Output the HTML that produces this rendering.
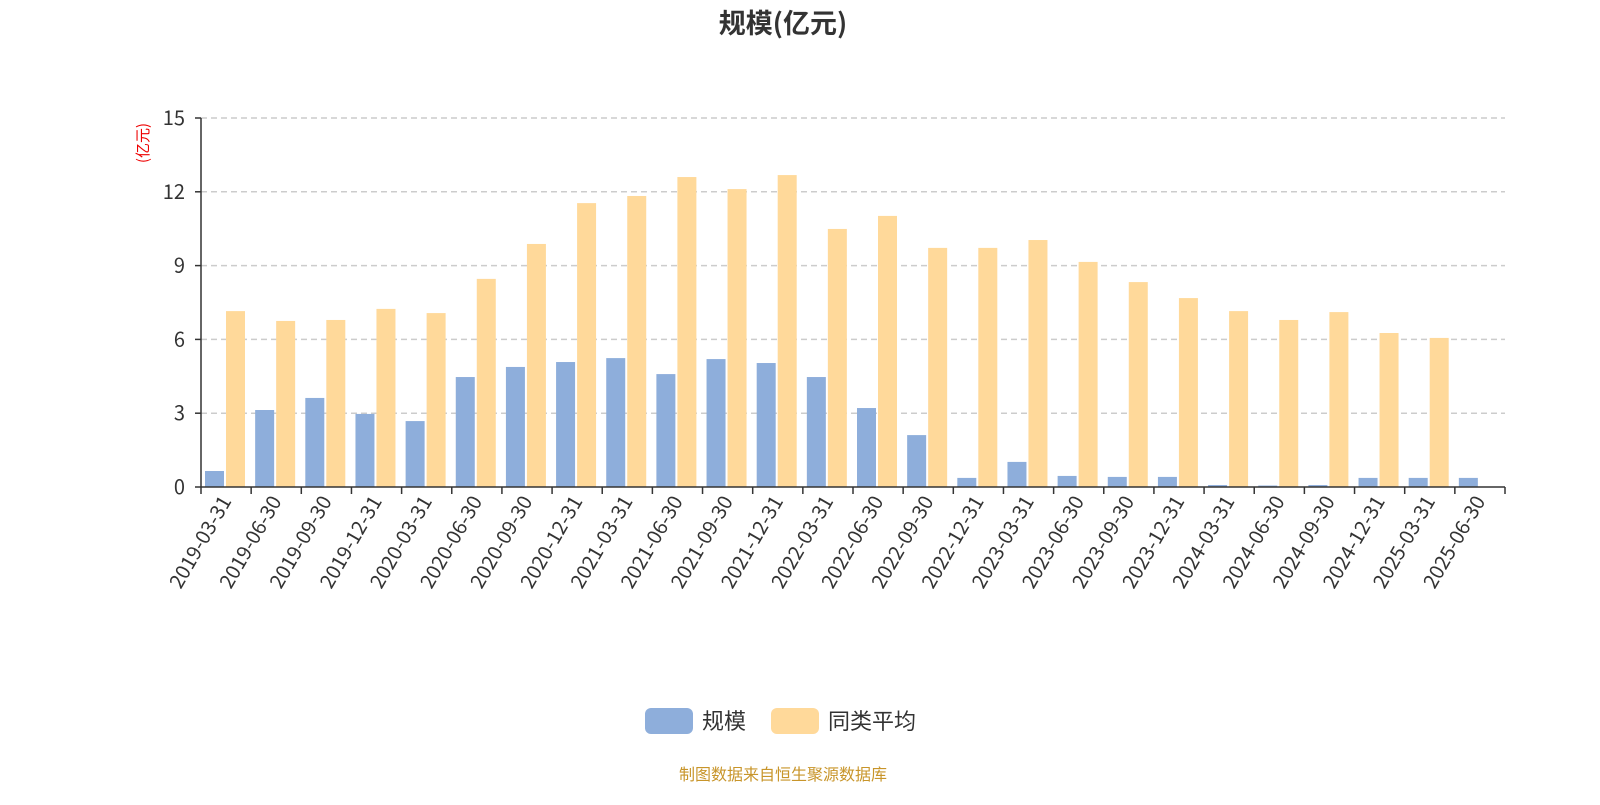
<!DOCTYPE html>
<html><head><meta charset="utf-8"><style>
body{margin:0;background:#fff;font-family:"Noto Sans CJK SC","Liberation Sans",sans-serif;}
</style></head><body>
<svg width="1600" height="800" xmlns="http://www.w3.org/2000/svg" font-family="Noto Sans CJK SC, Liberation Sans, sans-serif">
<text x="783" y="33" text-anchor="middle" font-size="27" font-weight="bold" fill="#333">规模(亿元)</text>
<text transform="translate(148,143) rotate(-90)" text-anchor="middle" font-size="15" fill="#e00">(亿元)</text>
<g id="grid"></g><g id="bars"></g><g id="axes"></g>
<g>
<rect x="645" y="708" width="48" height="26" rx="6" fill="#8eaedb"/>
<text x="702" y="729" font-size="22" fill="#333">规模</text>
<rect x="771" y="708" width="48" height="26" rx="6" fill="#ffd99a"/>
<text x="828" y="729" font-size="22" fill="#333">同类平均</text>
</g>
<text x="783" y="780" text-anchor="middle" font-size="16" fill="#c8952a">制图数据来自恒生聚源数据库</text>
</svg>
<script>
const categories=["2019-03-31","2019-06-30","2019-09-30","2019-12-31","2020-03-31","2020-06-30","2020-09-30","2020-12-31","2021-03-31","2021-06-30","2021-09-30","2021-12-31","2022-03-31","2022-06-30","2022-09-30","2022-12-31","2023-03-31","2023-06-30","2023-09-30","2023-12-31","2024-03-31","2024-06-30","2024-09-30","2024-12-31","2025-03-31","2025-06-30"];
const scaleValues=[0.65,3.13,3.62,2.97,2.68,4.47,4.88,5.08,5.24,4.59,5.2,5.04,4.47,3.21,2.11,0.37,1.02,0.45,0.41,0.41,0.08,0.06,0.08,0.37,0.37,0.37];
const avgValues=[7.15,6.75,6.79,7.24,7.07,8.46,9.88,11.54,11.83,12.6,12.11,12.68,10.49,11.02,9.72,9.72,10.04,9.15,8.33,7.68,7.15,6.79,7.11,6.26,6.06,null];
const yTicks=[0,3,6,9,12,15];
const NS="http://www.w3.org/2000/svg";
const x0=201,x1=1505,y0=487,y1=118,yMax=15;
const bw=(x1-x0)/categories.length;
const yS=v=>y0-(v/yMax)*(y0-y1);
function mk(tag,attrs,parent){const e=document.createElementNS(NS,tag);for(const k in attrs)e.setAttribute(k,attrs[k]);parent.appendChild(e);return e;}
const grid=document.getElementById('grid'),bars=document.getElementById('bars'),axes=document.getElementById('axes');
yTicks.forEach(t=>{
 if(t>0){const l=mk('line',{x1:x0,x2:x1,y1:yS(t),y2:yS(t),stroke:'#ccc','stroke-dasharray':'6,4','stroke-width':1.5},grid);
 
 }
 const tx=mk('text',{x:185,y:yS(t)+7,'text-anchor':'end','font-size':20,fill:'#333'},axes);tx.textContent=t;
 
 
 const tk=mk('line',{x1:x0-6,x2:x0,y1:yS(t),y2:yS(t),stroke:'#333','stroke-width':1.5},axes);
 
 
});
categories.forEach((c,i)=>{
 const bx=x0+i*bw;
 if(scaleValues[i]!=null){const r=mk('rect',{x:bx+4,y:yS(scaleValues[i]),width:19,height:y0-yS(scaleValues[i]),fill:'#8eaedb'},bars);
 
 }
 if(avgValues[i]!=null){const r=mk('rect',{x:bx+25,y:yS(avgValues[i]),width:19,height:y0-yS(avgValues[i]),fill:'#ffd99a'},bars);
 
 }
 const tk=mk('line',{x1:bx,x2:bx,y1:y0,y2:y0+7,stroke:'#333','stroke-width':1.5},axes);
 
 
 const cx=bx+bw/2;
 const tx=mk('text',{x:0,y:0,transform:`translate(${cx+6},${y0+14}) rotate(-60)`,'text-anchor':'end','font-size':20,fill:'#333'},axes);tx.textContent=c;
 
 
});
const lt=mk('line',{x1:x1,x2:x1,y1:y0,y2:y0+7,stroke:'#333','stroke-width':1.5},axes);


const ya=mk('line',{x1:x0,x2:x0,y1:y1,y2:y0,stroke:'#333','stroke-width':1.5},axes);


const xa=mk('line',{x1:x0,x2:x1,y1:y0,y2:y0,stroke:'#333','stroke-width':1.5},axes);


</script>
</body></html>
